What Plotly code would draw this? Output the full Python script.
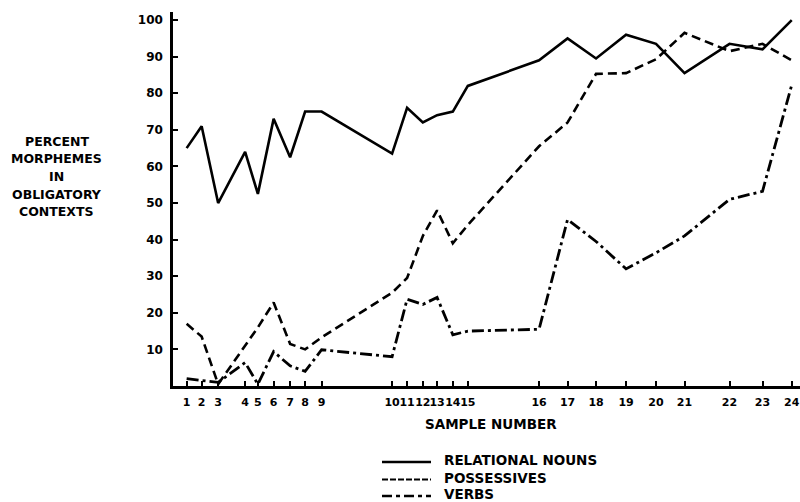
import plotly.graph_objects as go

# Sample positions along the time axis (arbitrary units) and labels
sample_pos = [1.0, 2.0, 3.1, 4.9, 5.75, 6.8, 7.9, 8.9, 10.0, 14.7, 15.7, 16.75,
              17.7, 18.75, 19.75, 24.5, 26.4, 28.3, 30.3, 32.3, 34.2, 37.2, 39.4, 41.35]
sample_labels = [str(i) for i in range(1, 25)]

relational_nouns = [65, 71, 50, 64, 52.5, 73, 62.5, 75, 75, 63.5, 76, 72,
                    74, 75, 82, 89, 95, 89.5, 96, 93.5, 85.5, 93.5, 92, 100]
possessives = [17, 13.5, 0.5, 11, 16, 22.8, 11.5, 10, 13.3, 25.5, 29.5, 41,
               48, 39, 44, 65.5, 72, 85.3, 85.5, 89.3, 96.5, 91.5, 93.5, 89]
verbs = [2, 1.6, 1, 6.4, 0.5, 9.4, 5.5, 4, 9.9, 8, 23.7, 22.3,
         24.2, 14, 15, 15.5, 45.5, 39.5, 32, 36.4, 41, 51, 53.2, 82.3]

series_names = ["RELATIONAL NOUNS", "POSSESSIVES", "VERBS"]
y_ticks = [10, 20, 30, 40, 50, 60, 70, 80, 90, 100]
y_title_lines = ["PERCENT", "MORPHEMES", "IN", "OBLIGATORY", "CONTEXTS"]

FONT = "DejaVu Sans"
W, H = 800, 502
# plot area in screen pixels: left 173, right 800, top 12, bottom 386
ML, MR, MT, MB = 173, 0, 12, H - 386
PW, PH = W - ML - MR, H - MT - MB


def px_x(px):
    return (px - ML) / PW


def px_y(py):
    return (H - MB - py) / PH


styles = [dict(color="black", width=2.6),
          dict(color="black", width=2.6, dash="9px,5px"),
          dict(color="black", width=2.8, dash="12px,4px,3px,4px")]
legend_styles = [dict(color="black", width=2.4),
                 dict(color="black", width=2.2, dash="6px,2px"),
                 dict(color="black", width=2.6, dash="10px,4px,4px,4px")]

fig = go.Figure()
for name, vals, st in zip(series_names, [relational_nouns, possessives, verbs], styles):
    fig.add_trace(go.Scatter(x=sample_pos, y=vals, mode="lines", name=name,
                             line=st, showlegend=False, hoverinfo="skip"))

fig.update_layout(
    width=W, height=H,
    margin=dict(l=ML, r=MR, t=MT, b=MB),
    paper_bgcolor="white", plot_bgcolor="white",
    font=dict(family=FONT, color="black", size=12),
    showlegend=False,
    xaxis=dict(range=[0.09, 41.9], tickvals=sample_pos,
               ticktext=[f"<b>{t}</b>" for t in sample_labels], tickangle=0,
               showgrid=False, zeroline=False, showline=True, linecolor="black", linewidth=2.5,
               ticks="inside", ticklen=5, tickwidth=1.5, tickcolor="black",
               tickfont=dict(family=FONT, size=11, color="black"), ticklabelstandoff=4,
               ticklabeloverflow="allow", automargin=False),
    yaxis=dict(range=[0, 102.2], tickvals=y_ticks, ticktext=[f"<b>{t}</b>" for t in y_ticks],
               showgrid=False, zeroline=False, showline=True, linecolor="black", linewidth=2.5,
               ticks="inside", ticklen=5, tickwidth=1.5, tickcolor="black",
               tickfont=dict(family=FONT, size=12, color="black"), ticklabelstandoff=5,
               automargin=False),
)

fig.add_annotation(x=px_x(491), y=px_y(424), xref="paper", yref="paper",
                   xanchor="center", yanchor="middle", showarrow=False,
                   text="<b>SAMPLE NUMBER</b>",
                   font=dict(family=FONT, size=13.5, color="black"))

for i, line in enumerate(y_title_lines):
    fig.add_annotation(x=px_x(57), y=px_y(141 + i * 17.7), xref="paper", yref="paper",
                       xanchor="center", yanchor="middle", showarrow=False,
                       text=f"<b>{line}</b>",
                       font=dict(family=FONT, size=12.5, color="black"))

# manual legend
legend_text_y = [460, 477.5, 494]
for name, st, ty in zip(series_names, legend_styles, legend_text_y):
    fig.add_shape(type="line", xref="paper", yref="paper",
                  x0=px_x(382), x1=px_x(431), y0=px_y(ty + 2), y1=px_y(ty + 2), line=st)
    fig.add_annotation(x=px_x(442), y=px_y(ty), xref="paper", yref="paper",
                       xanchor="left", yanchor="middle", showarrow=False,
                       text=f"<b>{name}</b>",
                       font=dict(family=FONT, size=13.5, color="black"))

fig.write_html(
    "out.html",
    config={"displayModeBar": False},
    post_script="document.body.style.margin='0';document.body.style.overflow='hidden';",
)
